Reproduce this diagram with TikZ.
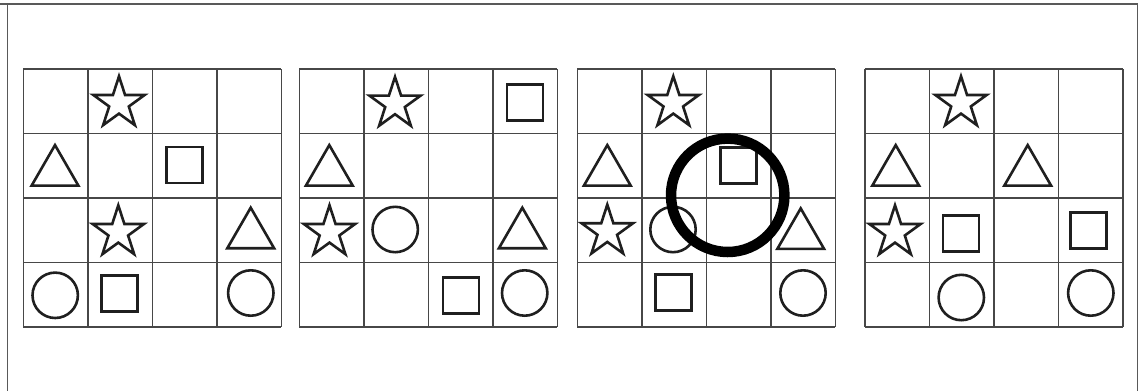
\documentclass[tikz,border=0pt]{standalone}
\usetikzlibrary{shapes.geometric}
\begin{document}
\begin{tikzpicture}[x=1pt,y=-1pt,
  frameline/.style={draw=black!65,line width=1.5pt},
  gridline/.style={draw=black!72,line width=1.4pt},
  shp/.style={draw=black!88,line width=2.6pt,inner sep=0pt,outer sep=0pt},
  starshp/.style={shp,star,star points=5,star point ratio=2.618,minimum size=54pt},
  trishp/.style={shp,regular polygon,regular polygon sides=3,minimum size=54pt},
  sqshp/.style={shp,rectangle,minimum size=36pt},
  circshp/.style={shp,circle,minimum size=45.4pt},
  bigring/.style={draw=black,line width=10.5pt,circle,inner sep=0pt,minimum size=113.4pt}]
\useasboundingbox (0,0) rectangle (1147,391);
\fill[white] (0,0) rectangle (1147,391);
% frame
\coordinate (fTL) at (0,4);
\coordinate (fL) at (7.5,4);
\coordinate (fLB) at (7.5,391);
\coordinate (fR) at (1137.5,4);
\coordinate (fRB) at (1137.5,391);
\draw[frameline] (fTL) -- (fR) -- (fRB);
\draw[frameline] (fL) -- (fLB);
% grids
\foreach \gx in {23.3,299.3,577.3,865}{
  \foreach \i in {0,...,4}{
    \draw[gridline] (\gx+64.5*\i,69) -- (\gx+64.5*\i,327);
    \draw[gridline] (\gx,69+64.5*\i) -- (\gx+258,69+64.5*\i);
  }
}
% grid 1
\node[starshp] (g1s1) at (119,103.3) {};
\node[starshp] (g1s2) at (118.3,232.3) {};
\node[trishp] (g1t1) at (55,172.1) {};
\node[trishp] (g1t2) at (250.7,234.7) {};
\node[sqshp] (g1q1) at (184.5,165) {};
\node[sqshp] (g1q2) at (119.5,293.3) {};
\node[circshp] (g1c1) at (55.2,295.3) {};
\node[circshp] (g1c2) at (250.8,293) {};
% grid 2
\node[starshp] (g2s1) at (395,103.9) {};
\node[starshp] (g2s2) at (329.5,232.3) {};
\node[trishp] (g2t1) at (329.3,172.1) {};
\node[trishp] (g2t2) at (522.3,234.7) {};
\node[sqshp] (g2q1) at (524.8,102.5) {};
\node[sqshp] (g2q2) at (460.8,295.2) {};
\node[circshp] (g2c1) at (395.2,229.5) {};
\node[circshp] (g2c2) at (524.7,293) {};
% grid 3
\node[starshp] (g3s1) at (673.3,103.3) {};
\node[starshp] (g3s2) at (607.3,231.6) {};
\node[trishp] (g3t1) at (607.3,172.1) {};
\node[trishp] (g3t2) at (800.7,235.4) {};
\node[sqshp] (g3q1) at (738.5,165.2) {};
\node[sqshp] (g3q2) at (673.5,292.5) {};
\node[circshp] (g3c1) at (673,229.5) {};
\node[circshp] (g3c2) at (803,293) {};
\node[bigring] (g3big) at (727.7,195.3) {};
% grid 4
\node[starshp] (g4s1) at (961,103.3) {};
\node[starshp] (g4s2) at (895,232.3) {};
\node[trishp] (g4t1) at (895.7,172.1) {};
\node[trishp] (g4t2) at (1027.7,172.1) {};
\node[sqshp] (g4q1) at (960.8,233.2) {};
\node[sqshp] (g4q2) at (1088.3,230.2) {};
\node[circshp] (g4c1) at (961.3,297.5) {};
\node[circshp] (g4c2) at (1090.8,293) {};
\end{tikzpicture}
\end{document}
